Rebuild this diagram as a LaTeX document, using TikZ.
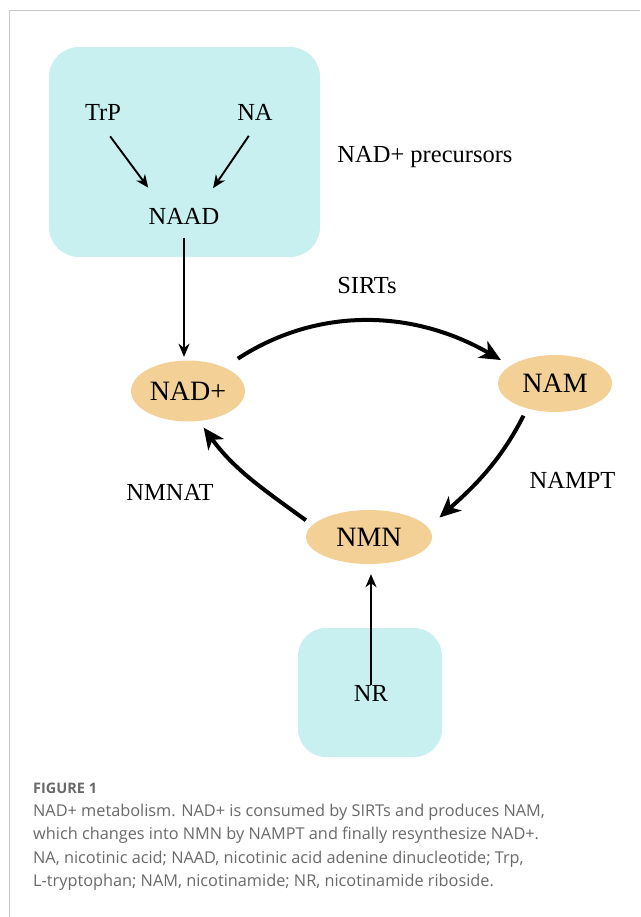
\documentclass[tikz,border=0pt]{standalone}
\usepackage{fontspec}
\setmainfont{Liberation Serif}
\newfontfamily\capfont{Open Sans}
\usetikzlibrary{shapes.geometric,arrows.meta}
\definecolor{poolcyan}{RGB}{200,240,240}
\definecolor{nadtan}{RGB}{243,208,150}
\definecolor{framegray}{RGB}{200,200,200}
\definecolor{capgray}{RGB}{105,105,105}

\begin{document}
\begin{tikzpicture}[x=1pt, y=1pt,
    pool/.style={fill=poolcyan, rounded corners=30pt},
    met node/.style={ellipse, fill=nadtan, inner sep=0pt, font=\fontsize{28}{30}\selectfont},
    lbl node/.style={inner sep=6pt, text depth=0pt, font=\fontsize{24.5}{28}\selectfont},
    cap node/.style={anchor=base west, inner sep=0pt, text=capgray, font=\capfont\fontsize{16.3}{18}\selectfont},
    thin arrow/.style={line width=1.9pt, -{Stealth[length=13pt, width=11pt, inset=4pt]}},
    thick arrow/.style={line width=4pt, -{Stealth[length=21pt, width=19pt, inset=6pt]}}]

  \useasboundingbox (0,0) rectangle (640,-917);
  % frame
  \draw[framegray, line width=1pt] (640,-11) -- (9,-11) -- (9,-917);

  % precursor pools
  \fill[pool] (49,-47) rectangle (320,-257);
  \fill[pool, rounded corners=28pt] (298,-628) rectangle (442,-757);

  \node[lbl node] (trp) at (103,-112.5) {TrP};
  \node[lbl node] (na) at (255,-112.5) {NA};
  \node[lbl node] (naad) at (184,-216.5) {NAAD};
  \node[lbl node] (prec) at (425,-154) {NAD+ precursors};
  \node[lbl node] (nr) at (371,-693) {NR};

  % cycle
  \node[met node, minimum width=114pt, minimum height=61pt] (nad) at (188,-391) {NAD+};
  \node[met node, minimum width=114pt, minimum height=57pt] (nam) at (555,-383.5) {NAM};
  \node[met node, minimum width=126pt, minimum height=54pt] (nmn) at (369,-537) {NMN};

  \node[lbl node] (sirts) at (367,-285) {SIRTs};
  \node[lbl node] (nampt) at (572.5,-480) {NAMPT};
  \node[lbl node] (nmnat) at (170,-492) {NMNAT};

  \path[thin arrow]
    (trp.south) edge[shorten <=12pt, shorten >=18pt] ([xshift=-25pt]naad.north)
    (na.south) edge[shorten <=11pt, shorten >=17pt] ([xshift=19.5pt]naad.north)
    (naad.south) edge[shorten <=7pt, shorten >=3.5pt] (naad.south |- nad.north)
    (nr.north) edge[shorten <=-6pt, shorten >=10pt] (nr.north |- nmn.south);

  \path[thick arrow]
    (nad.33) edge[out=33, in=150, shorten <=16pt, shorten >=11pt] (nam.158)
    (nam.222) edge[out=243, in=42, shorten <=8pt, shorten >=15pt] (nmn.9)
    (nmn.168) edge[out=144, in=-54, shorten <=8pt, shorten >=8pt] (nad.290);

  % caption
  \node[cap node, font=\capfont\bfseries\fontsize{14.5}{16}\selectfont] (fig) at (33,-793) {FIGURE 1};
  \node[cap node] (cap1) at (33,-816) {NAD+ metabolism. NAD+ is consumed by SIRTs and produces NAM,};
  \node[cap node] (cap2) at (33,-839.5) {which changes into NMN by NAMPT and finally resynthesize NAD+.};
  \node[cap node] (cap3) at (33,-863) {NA, nicotinic acid; NAAD, nicotinic acid adenine dinucleotide; Trp,};
  \node[cap node] (cap4) at (33,-886) {L-tryptophan; NAM, nicotinamide; NR, nicotinamide riboside.};
\end{tikzpicture}
\end{document}
